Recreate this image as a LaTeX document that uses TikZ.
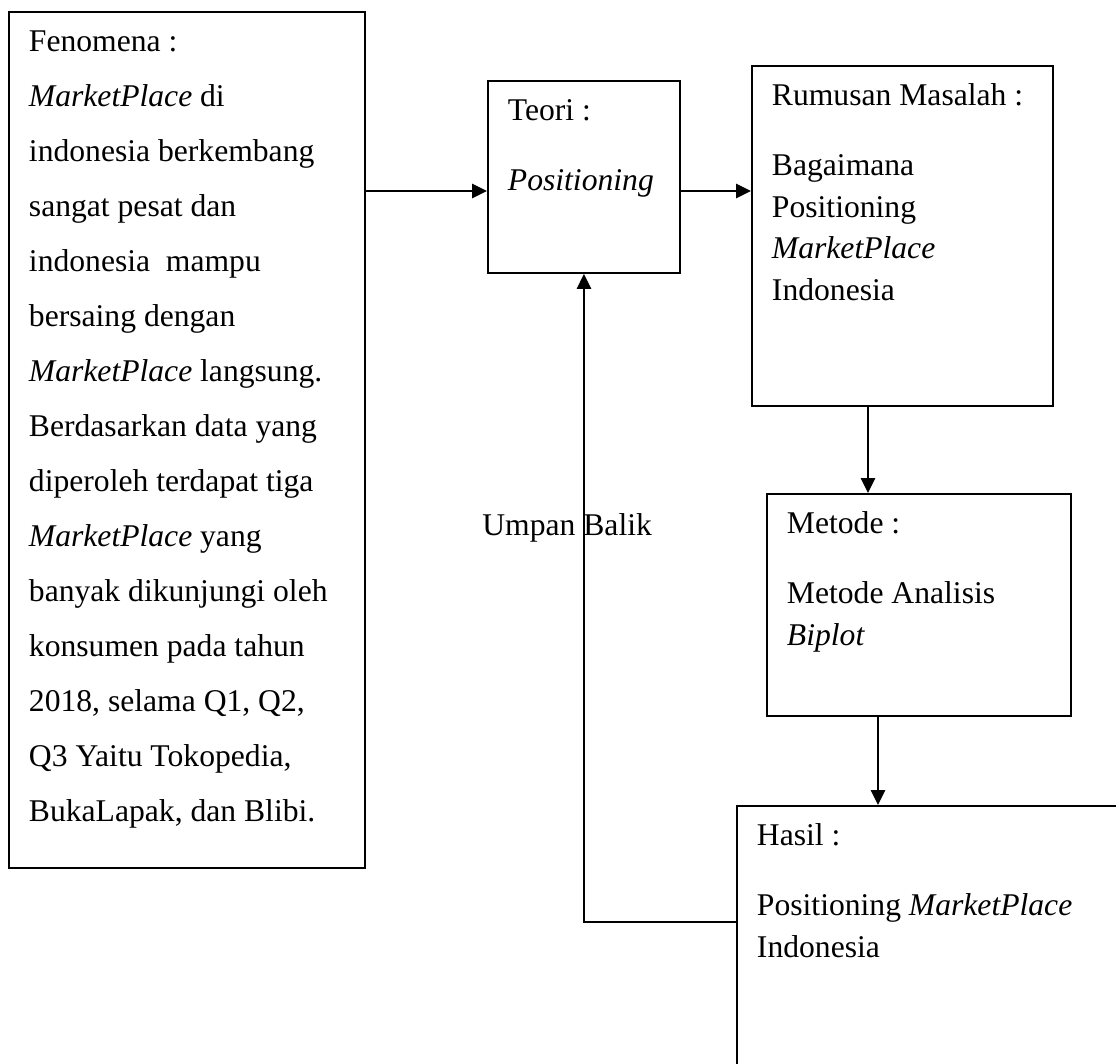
\documentclass[tikz,border=0pt]{standalone}
\usepackage{fontspec}
\setmainfont{Liberation Serif}
\usepackage{tikz}
\usetikzlibrary{arrows.meta}
\usetikzlibrary{positioning}
\usetikzlibrary{calc}

% box content: width, height, text (first baseline 0.8cm below the top)
\newcommand{\isikotak}[3]{\parbox[t][#2][t]{#1}{\raggedright\rule{0pt}{0.8cm}#3}}

\tikzset{
  kotak/.style={draw, line width=1.1pt, anchor=north west,
    inner xsep=0.4cm, inner ysep=0pt,
    font=\fontsize{18}{23.7}\selectfont},
  panah/.style={line width=1.5pt, -{Triangle[length=0.3cm,width=0.28cm]}},
}

\begin{document}
\begin{tikzpicture}[x=0.02cm,y=-0.02cm]

  \useasboundingbox (0,0) rectangle (1116,1064);
  \clip (0,0) rectangle (1116,1064);

  % Boxes
  \node[kotak] (fenomena) at (8,11) {\isikotak{6.32cm}{17.12cm}{%
      \fontsize{18}{31.3}\selectfont
      Fenomena :\\
      \textit{MarketPlace} di\\
      indonesia berkembang\\
      sangat pesat dan\\
      indonesia\ \ mampu\\
      bersaing dengan\\
      \textit{MarketPlace} langsung.\\
      Berdasarkan data yang\\
      diperoleh terdapat tiga\\
      \textit{MarketPlace} yang\\
      banyak dikunjungi oleh\\
      konsumen pada tahun\\
      2018, selama Q1, Q2,\\
      Q3 Yaitu Tokopedia,\\
      BukaLapak, dan Blibi.}};

  \node[kotak] (teori) at (487,80) {\isikotak{3.04cm}{3.84cm}{%
      Teori :\\[16pt]
      \textit{Positioning}}};

  \node[kotak] (rumusan) at (751,65) {\isikotak{5.22cm}{6.8cm}{%
      Rumusan Masalah :\\[16pt]
      Bagaimana\\
      Positioning\\
      \textit{MarketPlace}\\
      Indonesia}};

  \node[kotak] (metode) at (766,493) {\isikotak{5.28cm}{4.44cm}{%
      Metode :\\[16pt]
      Metode Analisis\\
      \textit{Biplot}}};

  % runs past the page edge
  \node[kotak] (hasil) at (736,805) {\isikotak{7.6cm}{6cm}{%
      Hasil :\\[16pt]
      Positioning \textit{MarketPlace}\\
      Indonesia}};

  % Connectors
  \coordinate (jalur) at (0,191);
  \coordinate (turun1) at (868,0);
  \coordinate (turun2) at (878,0);
  \coordinate (balik) at (0,922);

  \draw[panah] (fenomena.east |- jalur) -- (teori.west |- jalur);
  \draw[panah] (teori.east |- jalur) -- (rumusan.west |- jalur);
  \draw[panah] (rumusan.south -| turun1) -- (metode.north -| turun1);
  \draw[panah] (metode.south -| turun2) -- (hasil.north -| turun2);
  \draw[panah] (hasil.west |- balik) -| (teori.south);

  % Feedback label
  \node[anchor=base west, inner sep=0pt, font=\fontsize{18}{23.7}\selectfont]
    (umpanbalik) at (482,535) {Umpan Balik};

\end{tikzpicture}
\end{document}
